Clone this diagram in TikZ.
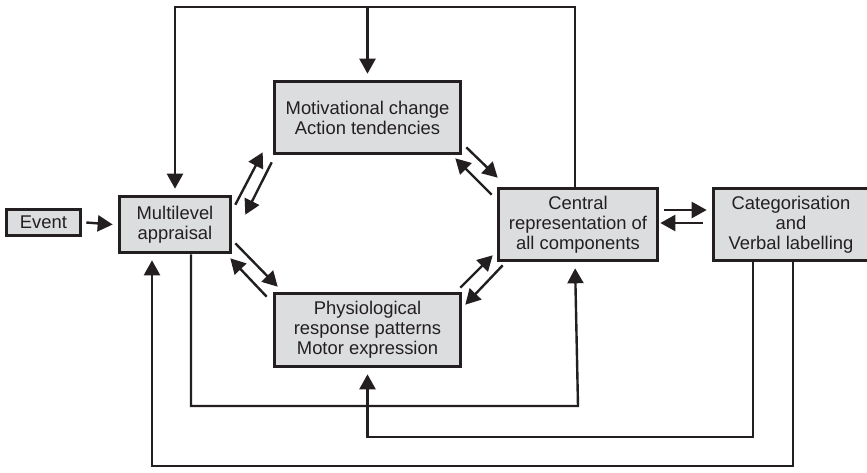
\documentclass[tikz,border=0pt]{standalone}
\usepackage{fontspec}
\setmainfont{Liberation Sans}
\usepackage{xcolor}
\usepackage{tikz}
\usetikzlibrary{arrows.meta,calc}
\definecolor{boxGrey}{HTML}{DCDDDF}
\definecolor{inkDark}{HTML}{231F20}
\tikzset{
  cbox/.style={draw=inkDark,line width=1.8pt,fill=boxGrey,align=center,inner sep=0pt,
    text=inkDark,font=\fontsize{9.2}{10}\selectfont},
  cflow/.style={-{Triangle[length=7.5pt,width=8pt]},line width=1.2pt,draw=inkDark},
}

\begin{document}
\begin{tikzpicture}[x=0.5pt,y=-0.5pt]
\useasboundingbox (0,0) rectangle (867,472);
\node[cbox,minimum width=37pt,minimum height=13pt] (event) at (43.5,222.5) {Event};
\node[cbox,minimum width=55.5pt,minimum height=28pt] (appraisal) at (175,224.5) {Multilevel\\appraisal};
\node[cbox,minimum width=93pt,minimum height=36pt] (motiv) at (367.5,117.5) {Motivational change\\Action tendencies};
\node[cbox,minimum width=93pt,minimum height=36.5pt] (physio) at (367.5,330) {Physiological\\response patterns\\Motor expression};
\node[cbox,minimum width=79.5pt,minimum height=36pt] (central) at (578,224.5) {Central\\representation of\\all components};
\node[cbox,minimum width=77.5pt,minimum height=36pt] (categ) at (791,224.5) {Categorisation\\and\\Verbal labelling};
\coordinate (ttop) at (0,7);
\coordinate (bone) at (0,406);
\coordinate (btwo) at (0,437);
\coordinate (bthree) at (0,466);
\draw[cflow] ($(event.east)+(4,0)$) -- ($(appraisal.west)+(-5,0)$);
\draw[cflow] ($(appraisal.north east)+(3,10)$) -- ($(motiv.south west)+(-10,-3)$);
\draw[cflow] ($(motiv.south west)+(-1,7)$) -- ($(appraisal.north east)+(13,20)$);
\draw[cflow] ($(appraisal.south east)+(3,-11)$) -- ($(physio.north west)+(5,-5)$);
\draw[cflow] ($(physio.north west)+(-6,5)$) -- ($(appraisal.south east)+(-2,4)$);
\draw[cflow] ($(motiv.south east)+(4,-8)$) -- ($(central.north west)+(1,-9)$);
\draw[cflow] ($(central.north west)+(-5,8)$) -- ($(motiv.south east)+(-7,3)$);
\draw[cflow] ($(physio.north east)+(-2,-4)$) -- ($(central.south west)+(-4,-7)$);
\draw[cflow] ($(central.south west)+(6,3)$) -- ($(physio.north east)+(3,13)$);
\draw[cflow] ($(central.east)+(5,-14.5)$) -- ($(categ.west)+(-5,-14.5)$);
\draw[cflow] ($(categ.west)+(-9,-1.5)$) -- ($(central.east)+(1,-1.5)$);
\draw[cflow,shorten >=3pt] ($(central.north)+(-3,0)$) -- ($(central.north |- ttop)+(-3,0)$) -| (appraisal.north);
\draw[cflow,shorten >=3pt] (motiv.north |- ttop) -- (motiv.north);
\draw[cflow,shorten >=3pt] ($(appraisal.south)+(16,0)$) |- (bone -| central.south) -- ($(central.south)+(-3,0)$);
\draw[cflow,shorten >=3pt] ($(categ.south)+(-38,0)$) |- (btwo -| physio.south) -- (physio.south);
\draw[cflow,shorten >=3pt] ($(categ.south)+(2,0)$) |- ($(bthree -| appraisal.south)+(-23,0)$) -- ($(appraisal.south)+(-23,0)$);
\end{tikzpicture}
\end{document}
